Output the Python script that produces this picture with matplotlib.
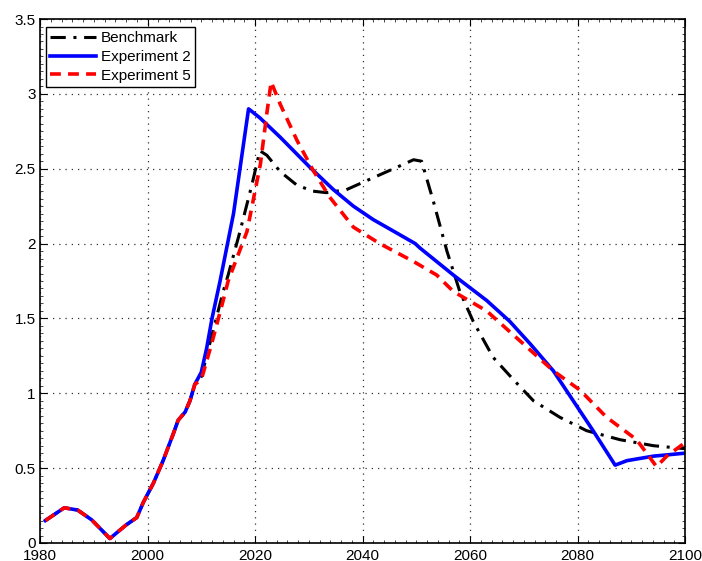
import numpy as np
import matplotlib
matplotlib.use("Agg")
import matplotlib.pyplot as plt
from matplotlib.ticker import MultipleLocator

plt.rcParams["font.family"] = ["Liberation Sans", "DejaVu Sans"]

# shared history 1980-2009
hist_x = [1981, 1984.5, 1987, 1989.6, 1993, 1996, 1998, 1999.2, 2001.1, 2002.9,
          2004.8, 2005.7, 2007, 2007.9, 2008.8]
hist_y = [0.15, 0.235, 0.22, 0.155, 0.03, 0.12, 0.17, 0.27, 0.40, 0.55,
          0.73, 0.82, 0.875, 0.95, 1.06]

bench_x = [2010, 2012, 2014, 2015, 2017.2, 2019.4, 2020.9, 2022.2, 2024.7, 2027.8,
           2030.8, 2033.3, 2037, 2042, 2046.4, 2049.5, 2051, 2053.2, 2055.7, 2058.1,
           2060.6, 2064.3, 2068.1, 2071.8, 2076.7, 2081.7, 2087.9, 2094.1, 2100]
bench_y = [1.11, 1.39, 1.67, 1.79, 2.08, 2.39, 2.62, 2.59, 2.48, 2.39,
           2.35, 2.34, 2.36, 2.44, 2.51, 2.56, 2.55, 2.28, 1.95, 1.68,
           1.48, 1.24, 1.09, 0.95, 0.84, 0.75, 0.69, 0.65, 0.63]

exp2_x = [2010, 2011, 2012, 2013.5, 2016, 2017, 2018, 2018.8, 2020.9, 2024.7,
          2030.2, 2034.6, 2038.3, 2042, 2046.4, 2049.8, 2050.7, 2056.9, 2063.1,
          2067.4, 2071.2, 2075.5, 2079.2, 2082.9, 2087, 2089.2, 2094.1, 2100]
exp2_y = [1.14, 1.3, 1.5, 1.75, 2.2, 2.45, 2.7, 2.9, 2.84, 2.71,
          2.51, 2.36, 2.25, 2.16, 2.07, 2.0, 1.97, 1.79, 1.62,
          1.48, 1.33, 1.15, 0.95, 0.75, 0.52, 0.55, 0.58, 0.60]

exp5_x = [2010, 2012, 2014, 2015, 2018.5, 2021, 2022.2, 2023, 2024.7, 2027.8,
          2030.8, 2033.9, 2038.3, 2043.2, 2049.5, 2053.8, 2056.9, 2063.1, 2069.3,
          2075.5, 2080.5, 2085.4, 2091, 2094.7, 2096.6, 2100]
exp5_y = [1.09, 1.34, 1.61, 1.75, 2.08, 2.53, 2.87, 3.08, 2.93, 2.69,
          2.49, 2.31, 2.11, 2.0, 1.88, 1.79, 1.68, 1.55, 1.35,
          1.15, 1.02, 0.84, 0.69, 0.51, 0.58, 0.67]

fig = plt.figure(figsize=(7.02, 5.61), dpi=100)
ax = fig.add_axes([0.057, 0.0321, 0.9188, 0.934])

ax.plot(hist_x + bench_x, hist_y + bench_y, color="black", lw=2.2, ls=(0, (5, 2.5, 1, 2.5)),
        label="Benchmark")
ax.plot(hist_x + exp2_x, hist_y + exp2_y, color="#0000ff", lw=2.6, ls="-",
        label="Experiment 2")
ax.plot(hist_x + exp5_x, hist_y + exp5_y, color="#ff0000", lw=2.6, ls=(0, (3, 2)),
        label="Experiment 5")

ax.set_xlim(1980, 2100)
ax.set_ylim(0, 3.5)
ax.set_xticks(np.arange(1980, 2101, 20))
ax.set_yticks(np.arange(0, 3.51, 0.5))
ax.set_yticklabels(["0", "0.5", "1", "1.5", "2", "2.5", "3", "3.5"])
ax.xaxis.set_minor_locator(MultipleLocator(2))
ax.yaxis.set_minor_locator(MultipleLocator(0.05))
ax.tick_params(which="both", direction="in", top=True, right=True, labelsize=11)
ax.tick_params(which="major", length=5)
ax.tick_params(which="minor", length=2, width=0.5)
ax.tick_params(axis="x", pad=4)
ax.tick_params(axis="y", pad=3)
ax.grid(True, which="major", ls=(0, (1, 4)), color="#333333", lw=0.9)
for s in ax.spines.values():
    s.set_linewidth(1.2)

leg = ax.legend(loc="upper left", bbox_to_anchor=(0.009, 0.985), borderaxespad=0,
                fontsize=11, fancybox=False, framealpha=1, edgecolor="black",
                handlelength=3.0, labelspacing=0.3, borderpad=0.3, handletextpad=0.3)
leg.get_frame().set_linewidth(1)

fig.savefig("out.png")
